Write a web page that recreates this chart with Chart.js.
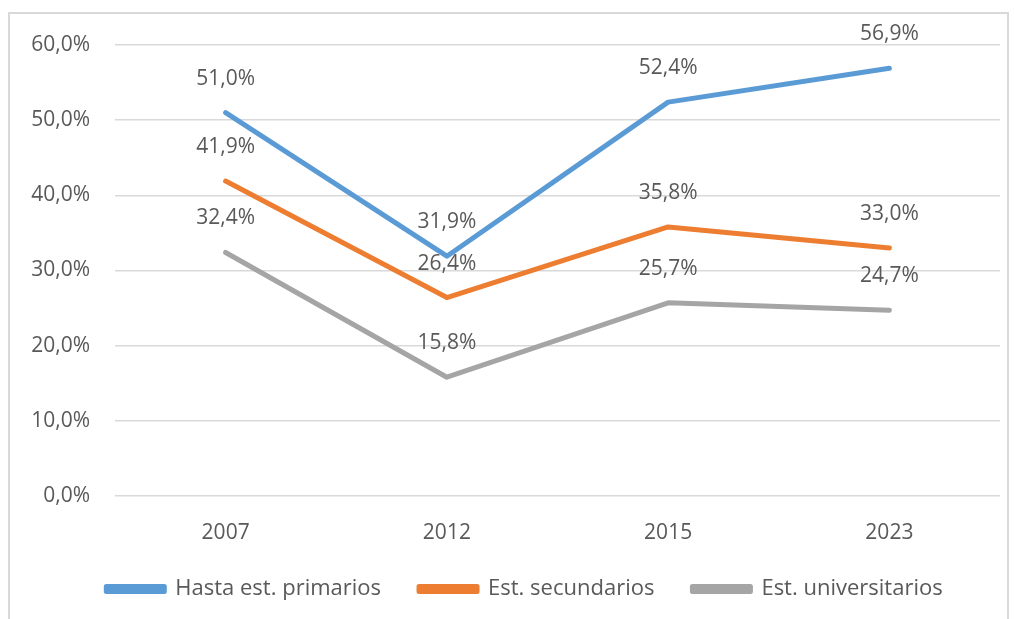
<!DOCTYPE html>
<html>
<head>
<meta charset="utf-8">
<script src="https://cdn.jsdelivr.net/npm/chart.js@4"></script>
<style>
    html, body { margin: 0; padding: 0; background: #fff; }
    #frame { position: absolute; left: 8px; top: 12px; width: 1001px; height: 640px; border: 2px solid #d9d9d9; box-sizing: border-box; }
    #wrap { position: absolute; left: 0; top: 0; width: 1014px; height: 619px; }
</style>
</head>
<body>
<div id="frame"></div>
<div id="wrap"><canvas id="chart"></canvas></div>
<script>
const years = ['2007', '2012', '2015', '2023'];
const primarios = [51.0, 31.9, 52.4, 56.9];
const secundarios = [41.9, 26.4, 35.8, 33.0];
const universitarios = [32.4, 15.8, 25.7, 24.7];
const seriesNames = ['Hasta est. primarios', 'Est. secundarios', 'Est. universitarios'];
const seriesColors = ['#5B9BD5', '#ED7D31', '#A5A5A5'];

const FONT = '"Open Sans", sans-serif';
const TEXT = '#595959';

const fmt = v => v.toFixed(1).replace('.', ',') + '%';

// value labels above each point
const pointLabels = {
    id: 'pointLabels',
    afterDatasetsDraw(chart) {
        const ctx = chart.ctx;
        ctx.save();
        ctx.font = '21px ' + FONT;
        ctx.fillStyle = TEXT;
        ctx.textAlign = 'center';
        ctx.textBaseline = 'middle';
        chart.data.datasets.forEach((ds, i) => {
            chart.getDatasetMeta(i).data.forEach((pt, j) => {
                ctx.fillText(fmt(ds.data[j]), pt.x, pt.y - 34);
            });
        });
        ctx.restore();
    }
};

// legend in the original sits a bit right of centre
const legendShift = {
    id: 'legendShift',
    afterLayout(chart) {
        chart.legend.left += 17;
        chart.legend.right += 17;
    }
};

document.addEventListener("DOMContentLoaded", () => {
    const ctx = document.getElementById('chart').getContext('2d');
    const allSeries = [primarios, secundarios, universitarios];

    new Chart(ctx, {
        type: 'line',
        data: {
            labels: years,
            datasets: allSeries.map((vals, i) => ({
                label: seriesNames[i],
                data: vals,
                borderColor: seriesColors[i],
                backgroundColor: seriesColors[i],
                borderWidth: 5,
                pointRadius: 0,
                tension: 0,
                borderCapStyle: 'round',
                borderJoinStyle: 'round'
            }))
        },
        options: {
            responsive: true,
            maintainAspectRatio: false,
            animation: false,
            layout: { padding: { top: 45, left: 15, right: 14, bottom: 9 } },
            scales: {
                x: {
                    offset: true,
                    grid: { display: false },
                    border: { display: false },
                    ticks: { color: TEXT, font: { family: FONT, size: 21 }, padding: 16 },
                    afterFit: s => { s.height = 44; }
                },
                y: {
                    min: 0,
                    max: 60,
                    ticks: {
                        stepSize: 10,
                        color: TEXT,
                        font: { family: FONT, size: 21 },
                        padding: 25,
                        callback: v => fmt(v)
                    },
                    grid: { color: '#d9d9d9', lineWidth: 1.5, drawTicks: false },
                    border: { display: false },
                    afterFit: s => { s.width = 100; }
                }
            },
            plugins: {
                legend: {
                    position: 'bottom',
                    labels: {
                        color: TEXT,
                        font: { family: FONT, size: 22 },
                        boxWidth: 58,
                        boxHeight: 5,
                        padding: 38
                    }
                },
                tooltip: { enabled: false }
            }
        },
        plugins: [pointLabels, legendShift]
    });
});
</script>
</body>
</html>
